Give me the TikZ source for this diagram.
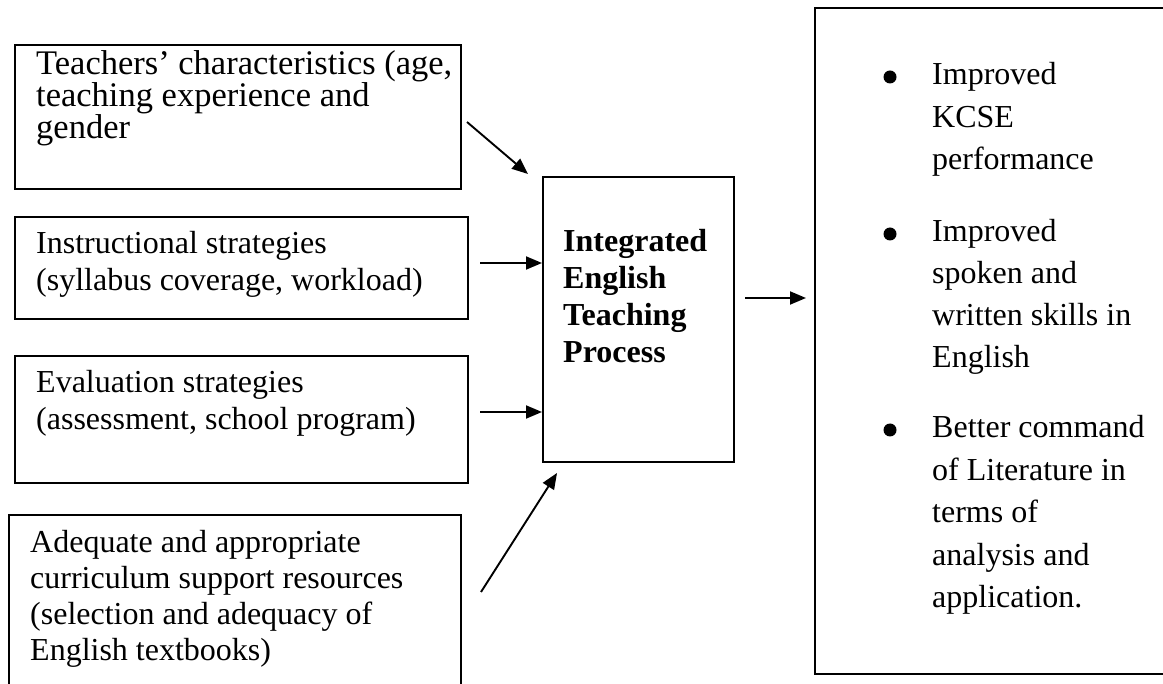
\documentclass[tikz,border=0pt]{standalone}
\usepackage{fontspec}
\setmainfont{Liberation Serif}
\usetikzlibrary{arrows.meta}
\newcommand{\stack}[2]{\vtop{\baselineskip=#1\lineskiplimit=-1000pt\lineskip=0pt #2}}
\begin{document}
\begin{tikzpicture}[x=1pt,y=-1pt,
  box/.style={draw,line width=1.7pt,inner sep=0pt,anchor=north west},
  txt/.style={anchor=base west,inner sep=0pt,font=\fontsize{32}{37}\selectfont},
  dot/.style={circle,fill,inner sep=0pt,minimum size=13pt},
  arr/.style={line width=1.9pt,-{Triangle[length=16pt,width=13pt]}}]
\useasboundingbox (0,0) rectangle (1163,684);
\fill[white] (0,0) rectangle (1163,684);
\clip (0,0) rectangle (1163,684);
% boxes
\node[box,minimum width=446pt,minimum height=144pt] (b1) at (14,44) {};
\node[box,minimum width=453pt,minimum height=102pt] (b2) at (14,216) {};
\node[box,minimum width=453pt,minimum height=127pt] (b3) at (14,355) {};
\node[box,minimum width=452pt,minimum height=200pt] (b4) at (8,514) {};
\node[box,minimum width=191pt,minimum height=285pt] (mid) at (542,176) {};
\node[box,minimum width=380pt,minimum height=666pt] (res) at (814,7) {};
% texts
\node[txt,font=\fontsize{34.5}{37}\selectfont] (t1) at (36,75) {\stack{32pt}{\hbox{Teachers’ characteristics (age,}\hbox{teaching experience and}\hbox{gender}}};
\node[txt] (t2) at (36,254) {\stack{37pt}{\hbox{Instructional strategies}\hbox{(syllabus coverage, workload)}}};
\node[txt] (t3) at (36,393) {\stack{37pt}{\hbox{Evaluation strategies}\hbox{(assessment, school program)}}};
\node[txt] (t4) at (30,553) {\stack{36pt}{\hbox{Adequate and appropriate}\hbox{curriculum support resources}\hbox{(selection and adequacy of}\hbox{English textbooks)}}};
\node[txt,font=\fontsize{32}{37}\selectfont\bfseries] (tm) at (563,252) {\stack{37pt}{\hbox{Integrated}\hbox{English}\hbox{Teaching}\hbox{Process}}};
\node[dot] (bu1) at (890,77) {};
\node[dot] (bu2) at (890,234) {};
\node[dot] (bu3) at (890,430) {};
\node[txt] (r1) at (932,85) {\stack{42.5pt}{\hbox{Improved}\hbox{KCSE}\hbox{performance}}};
\node[txt] (r2) at (932,242) {\stack{42pt}{\hbox{Improved}\hbox{spoken and}\hbox{written skills in}\hbox{English}}};
\node[txt] (r3) at (932,438) {\stack{42.5pt}{\hbox{Better command}\hbox{of Literature in}\hbox{terms of}\hbox{analysis and}\hbox{application.}}};
% arrows
\coordinate (a1s) at (467,122);
\coordinate (a1e) at (528,174);
\coordinate (a2s) at (480,263);
\coordinate (a3s) at (480,412);
\coordinate (a4s) at (481,592);
\coordinate (a4e) at (557,473);
\coordinate (a5s) at (745,298);
\draw[arr] (a1s) -- (a1e);
\draw[arr] (a2s) -- (a2s -| mid.west);
\draw[arr] (a3s) -- (a3s -| mid.west);
\draw[arr] (a4s) -- (a4e);
\draw[arr,shorten >=8pt] (a5s) -- (a5s -| res.west);
\end{tikzpicture}
\end{document}
